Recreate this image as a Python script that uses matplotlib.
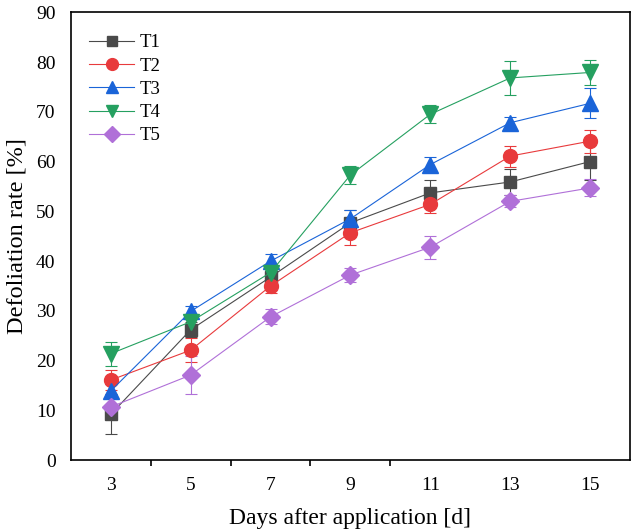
import numpy as np
import matplotlib.pyplot as plt
from matplotlib.lines import Line2D

plt.rcParams['font.family'] = ['Liberation Serif', 'DejaVu Serif']

days = ['3', '5', '7', '9', '11', '13', '15']

t1 = [9.2, 26.2, 36.8, 47.7, 53.7, 55.9, 60.0]
t2 = [16.1, 22.1, 35.0, 45.7, 51.4, 61.1, 64.1]
t3 = [13.9, 29.9, 40.0, 48.5, 59.4, 67.8, 71.7]
t4 = [21.4, 27.8, 37.7, 57.3, 69.5, 76.8, 77.9]
t5 = [10.7, 17.1, 28.8, 37.2, 42.8, 52.0, 54.7]

t1_err = [4.0, 1.5, 1.2, 2.5, 2.5, 2.7, 3.8]
t2_err = [2.0, 2.4, 1.5, 2.5, 1.8, 2.1, 2.3]
t3_err = [1.5, 1.1, 1.4, 1.7, 1.5, 1.2, 3.0]
t4_err = [2.4, 1.5, 1.2, 1.9, 1.8, 3.4, 2.6]
t5_err = [2.0, 3.8, 1.5, 1.4, 2.3, 1.2, 1.7]

names = ['T1', 'T2', 'T3', 'T4', 'T5']
series = [t1, t2, t3, t4, t5]
errors = [t1_err, t2_err, t3_err, t4_err, t5_err]
colors = ['#4a4a4a', '#e83a3c', '#1a64d8', '#25a060', '#b070d8']
markers = ['s', 'o', '^', 'v', 'D']
sizes = [9, 10, 11, 11, 9]

fig = plt.figure(figsize=(6.32, 5.32), dpi=100)
ax = fig.add_axes([0.112, 0.135, 0.885, 0.842])

x = np.arange(len(days))
handles = []
for name, y, e, c, m, s in zip(names, series, errors, colors, markers, sizes):
    ax.errorbar(x, y, yerr=e, color=c, marker=m, markersize=s, linewidth=0.8,
                elinewidth=0.8, capsize=4.5, capthick=0.8)
    handles.append(Line2D([], [], color=c, marker=m, markersize=s * 0.85,
                          linewidth=0.8, label=name))

ax.set_xlim(-0.5, 6.5)
ax.set_ylim(0, 90)
ax.set_xticks(x)
ax.set_xticklabels(days)
ax.set_yticks(np.arange(0, 91, 10))
ax.set_xticks([0.5, 1.5, 2.5, 3.5], minor=True)
ax.tick_params(axis='x', which='major', length=0, labelsize=14, pad=12)
ax.tick_params(axis='x', which='minor', length=4, width=1.2, direction='out')
ax.tick_params(axis='y', length=0, labelsize=14, pad=11)
for sp in ax.spines.values():
    sp.set_linewidth(1.2)

ax.set_xlabel('Days after application [d]', fontsize=17, labelpad=10)
ax.set_ylabel('Defoliation rate [%]', fontsize=17.5, labelpad=6)

ax.legend(handles=handles, loc='upper left', frameon=False, fontsize=13.5,
          handlelength=2.35, labelspacing=0.33, handletextpad=0.3,
          borderaxespad=0, bbox_to_anchor=(0.02, 0.968))

fig.savefig('out.png', dpi=100)
